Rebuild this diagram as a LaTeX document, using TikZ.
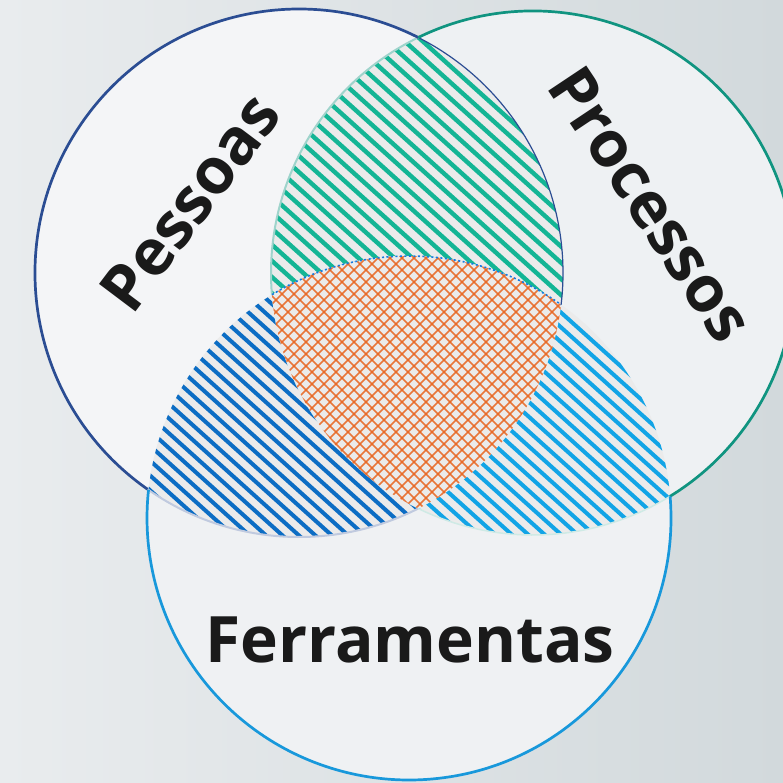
\documentclass[tikz,border=0pt]{standalone}
\usepackage{fontspec}
\setmainfont{Open Sans}
\definecolor{bgL}{HTML}{E9ECEE}
\definecolor{bgR}{HTML}{D2D9DC}
\definecolor{fillA}{HTML}{F4F5F7}
\definecolor{fillB}{HTML}{EEF1F3}
\definecolor{fillC}{HTML}{EFF1F3}
\definecolor{hbase}{HTML}{EBEBEB}
\definecolor{tealH}{HTML}{14B595}
\definecolor{blueH}{HTML}{0C6DC4}
\definecolor{lblueH}{HTML}{12A4E6}
\definecolor{orangeH}{HTML}{E8631D}
\definecolor{outA}{HTML}{2B4D93}
\definecolor{outB}{HTML}{109480}
\definecolor{outC}{HTML}{1898DB}
\definecolor{txt}{HTML}{1A1A1A}
\tikzset{
  lbl/.style={font=\fontsize{64}{64}\selectfont\bfseries, text=txt, inner sep=0pt},
  outline/.style={line width=2.7pt},
  tealline/.style={tealH, line width=4.4pt},
  blueline/.style={blueH, line width=4pt},
  lblueline/.style={lblueH, line width=4pt},
  orangeline/.style={orangeH, line width=1.5pt, opacity=0.85}
}
\begin{document}
\begin{tikzpicture}[x=1pt,y=-1pt]
\useasboundingbox (0,0) rectangle (783,782);
\shade[left color=bgL, right color=bgR] (0,0) rectangle (783,782);
\coordinate (A) at (299,273);
\coordinate (B) at (533,273);
\coordinate (C) at (409,518);
% circle fills
\fill[fillA] (A) circle[radius=264];
\fill[fillB] (B) circle[radius=262];
\fill[fillC] (C) circle[radius=262];
% lens A-B (teal)
\begin{scope}
\clip (A) circle[radius=264];
\clip (B) circle[radius=262];
\fill[hbase] (0,0) rectangle (783,782);
\foreach \k in {-34,...,8} \draw[tealline] (-10,{\k*16.15-9}) -- (800,{\k*16.15+720});
\end{scope}
% lens A-C (blue)
\begin{scope}
\clip (A) circle[radius=264];
\clip (C) circle[radius=262];
\fill[hbase] (0,0) rectangle (783,782);
\foreach \k in {-18,...,32} \draw[blueline] (-10,{\k*14.8-9}) -- (800,{\k*14.8+720});
\end{scope}
% lens B-C (light blue)
\begin{scope}
\clip (B) circle[radius=262];
\clip (C) circle[radius=262];
\fill[hbase] (0,0) rectangle (783,782);
\foreach \k in {-24,...,24} \draw[lblueline] (-10,{\k*14.8-9}) -- (800,{\k*14.8+720});
\end{scope}
% triple (orange crosshatch)
\begin{scope}
\clip (A) circle[radius=264];
\clip (B) circle[radius=262];
\clip (C) circle[radius=262];
\fill[hbase] (0,0) rectangle (783,782);
\foreach \k in {-15,...,27} \draw[orangeline] ({\k*12},0) -- ({\k*12+800},800);
\foreach \k in {40,...,82} \draw[orangeline] ({\k*12},0) -- ({\k*12-800},800);
\end{scope}
% inner boundary strokes
\draw[outA, line width=1.2pt] ([shift={(-63.1:264)}]A) arc[start angle=-63.1, end angle=6.9, radius=264];
\draw[outB!40, line width=2pt] ([shift={(175.25:262)}]B) arc[start angle=175.25, end angle=244, radius=262];
\draw[outA!30, line width=2pt] ([shift={(63.1:264)}]A) arc[start angle=63.1, end angle=125, radius=264];
\draw[outB!20, line width=1.5pt] ([shift={(58.5:262)}]B) arc[start angle=58.5, end angle=116, radius=262];
\draw[outC!80!blue, line width=1.6pt, dash pattern=on 2pt off 2.5pt] ([shift={(-121.5:262)}]C) arc[start angle=-121.5, end angle=-54.5, radius=262];
% outer outlines
\draw[outA, outline] ([shift={(125:264)}]A) arc[start angle=125, end angle=296.9, radius=264];
\draw[outB, outline] ([shift={(244:262)}]B) arc[start angle=244, end angle=418.5, radius=262];
\draw[outC, outline] ([shift={(-4.75:262)}]C) arc[start angle=-4.75, end angle=186.2, radius=262];
% labels
\node[lbl, rotate=53] (pessoas) at (190,202) {Pessoas};
\node[lbl, rotate=-56.3] (processos) at (651,204) {Processos};
\node[lbl, anchor=base] (ferramentas) at (410,662) {Ferramentas};
\end{tikzpicture}
\end{document}
